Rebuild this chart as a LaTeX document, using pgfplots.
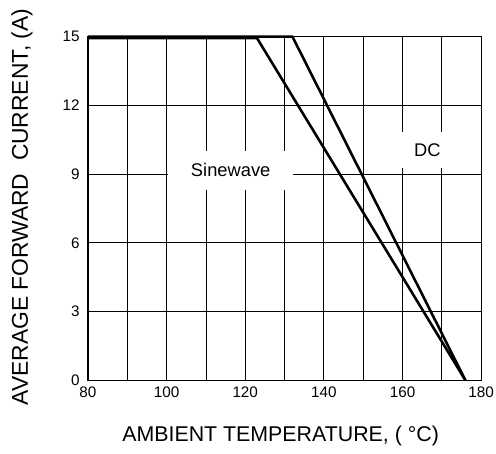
\documentclass[border=0pt]{standalone}
\usepackage{fontspec}
\setmainfont{Liberation Sans}
\usepackage{pgfplots}
\pgfplotsset{compat=1.18}

\begin{document}
\begin{tikzpicture}
\useasboundingbox (0,0) rectangle (502bp,459bp);
\begin{axis}[
  at={(89bp,74bp)}, anchor=south west,
  width=398bp, height=348bp, scale only axis,
  xmin=80, xmax=180, ymin=0, ymax=15,
  xtick={80,100,...,180},
  xticklabels={80,100,120,140,\raisebox{-4bp}{160},180},
  minor xtick={90,110,...,170},
  ytick={0,3,...,15},
  xmajorgrids, xminorgrids, ymajorgrids,
  grid style={black, line width=0.8bp},
  minor grid style={black, line width=0.8bp},
  axis line style={black, line width=0.9bp},
  major tick length=0, minor tick length=0,
  /pgf/number format/assume math mode=true,
  ticklabel style={font=\fontsize{15.5}{18}\selectfont},
  yticklabel style={xshift=-5bp},
  xticklabel style={yshift=-3bp},
  xlabel={AMBIENT TEMPERATURE, ( °C)},
  ylabel={AVERAGE FORWARD\ \ CURRENT, (A)},
  every axis x label/.style={at={(axis description cs:0.49,-0.161)}, anchor=center,
    font=\fontsize{21.7}{24}\selectfont},
  every axis y label/.style={at={(axis description cs:-0.168,0.504)}, rotate=90, anchor=center,
    font=\fontsize{23.2}{26}\selectfont},
  clip=false,
]
  % label boxes hide the grid behind the text
  \node[fill=white, minimum width=126bp, minimum height=39bp, inner sep=0pt,
        font=\fontsize{18.6}{20}\selectfont] at (axis cs:116.3,9.16) {Sinewave};
  \node[fill=white, minimum width=62bp, minimum height=37bp, inner sep=0pt,
        font=\fontsize{18.6}{20}\selectfont] at (axis cs:166.3,10.06) {DC};
  % DC
  \addplot[black, line width=2.6bp, line join=round] coordinates {(80,15) (132,15) (176,0)};
  % Sinewave
  \addplot[black, line width=2.6bp, line join=round] coordinates {(80,14.93) (123,14.93) (176,0)};
\end{axis}
\end{tikzpicture}
\end{document}
